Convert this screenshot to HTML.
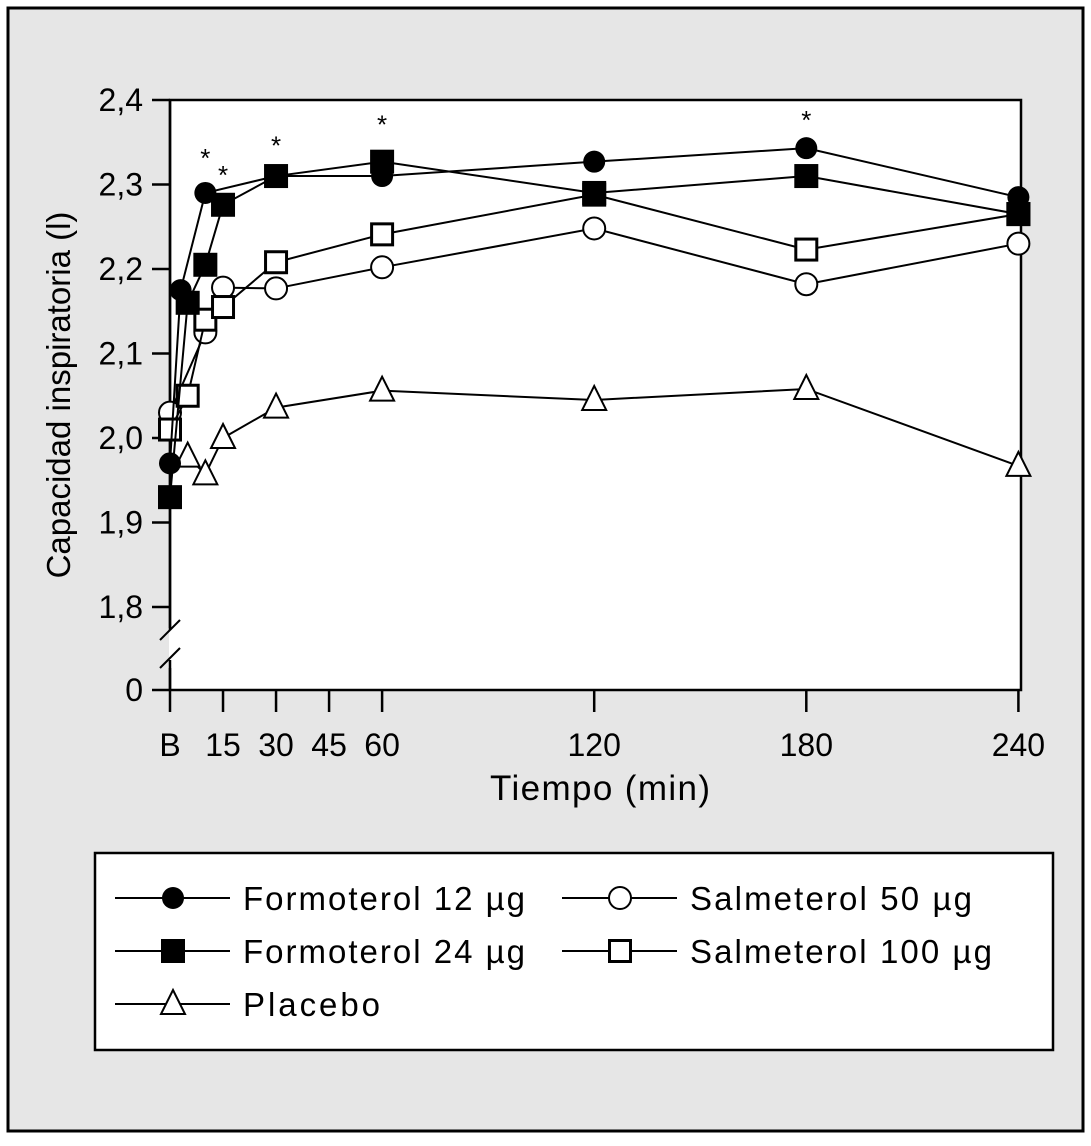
<!DOCTYPE html>
<html><head><meta charset="utf-8"><style>
body{margin:0;background:#fff;}
svg text{font-family:"Liberation Sans",sans-serif;fill:#000;}
</style></head><body>
<svg id="chart" width="1091" height="1141" xmlns="http://www.w3.org/2000/svg">
<rect x="8" y="8" width="1075" height="1123" fill="#e6e6e6" stroke="#000" stroke-width="3"/>
<rect x="170" y="100" width="851" height="590" fill="#fff" stroke="#000" stroke-width="2.5"/>
<g id="axes"></g>
<g id="series"></g>
<text x="600" y="800" font-size="35" text-anchor="middle" textLength="220">Tiempo (min)</text>
<text transform="translate(70,395) rotate(-90)" font-size="33" text-anchor="middle">Capacidad inspiratoria (l)</text>
<rect x="95" y="853" width="958" height="197" fill="#fff" stroke="#000" stroke-width="2.5"/>
<g id="legend"></g>
</svg>
<script>
const yTicks=[2.4,2.3,2.2,2.1,2.0,1.9,1.8];
const yTickLabels=["2,4","2,3","2,2","2,1","2,0","1,9","1,8"];
const xTicks=[0,15,30,45,60,120,180,240];
const xTickLabels=["B","15","30","45","60","120","180","240"];
const f12T=[0,3,10,30,60,120,180,240];
const f12V=[1.97,2.175,2.29,2.31,2.31,2.327,2.343,2.285];
const f24T=[0,5,10,15,30,60,120,180,240];
const f24V=[1.93,2.16,2.205,2.276,2.31,2.327,2.29,2.31,2.265];
const s50T=[0,10,15,30,60,120,180,240];
const s50V=[2.03,2.125,2.178,2.177,2.202,2.248,2.182,2.23];
const s100T=[0,5,10,15,30,60,120,180,240];
const s100V=[2.01,2.05,2.14,2.155,2.208,2.241,2.288,2.223,2.265];
const plT=[5,10,15,30,60,120,180,240];
const plV=[1.978,1.957,2.0,2.036,2.056,2.045,2.058,1.967];
const starT=[10,15,30,60,180];
const starV=[2.33,2.31,2.345,2.37,2.375];
const NS="http://www.w3.org/2000/svg";
const xs=t=>170+t*3.535;
const ys=v=>100+(2.4-v)*845;
function el(tag,attrs,parent){const e=document.createElementNS(NS,tag);for(const k in attrs)e.setAttribute(k,attrs[k]);parent.appendChild(e);return e;}
const ax=document.getElementById('axes');
yTicks.forEach((v,i)=>{const y=ys(v);
 const l=el('line',{x1:152,x2:170,y1:y,y2:y,stroke:'#000','stroke-width':2.5},ax);
 
 
 const t=el('text',{x:143,y:y+11,'font-size':32,'text-anchor':'end'},ax);t.textContent=yTickLabels[i];
 
 });
{const l=el('line',{x1:152,x2:170,y1:690,y2:690,stroke:'#000','stroke-width':2.5},ax);
 
 
 const t=el('text',{x:143,y:701,'font-size':32,'text-anchor':'end'},ax);t.textContent="0";
 
 
 el('rect',{x:158,y:628,width:11,height:40,fill:'#e6e6e6'},ax);
 el('rect',{x:169,y:628,width:4,height:40,fill:'#fff'},ax);
 el('line',{x1:160,y1:640,x2:180,y2:620,stroke:'#000','stroke-width':2},ax);
 el('line',{x1:160,y1:668,x2:180,y2:648,stroke:'#000','stroke-width':2},ax);
 el('line',{x1:170,y1:100,x2:170,y2:630,stroke:'#000','stroke-width':2.5},ax);
 el('line',{x1:170,y1:660,x2:170,y2:690,stroke:'#000','stroke-width':2.5},ax);}
xTicks.forEach((t,i)=>{const x=xs(t);
 const l=el('line',{x1:x,x2:x,y1:690,y2:712,stroke:'#000','stroke-width':2.5},ax);
 
 
 const tx=el('text',{x:x,y:756,'font-size':32,'text-anchor':'middle'},ax);tx.textContent=xTickLabels[i];
 
 });
function marker(g,type,x,y){
 if(type==='fc')return el('circle',{cx:x,cy:y,r:11,fill:'#000'},g);
 if(type==='oc')return el('circle',{cx:x,cy:y,r:11,fill:'#fff',stroke:'#000','stroke-width':2},g);
 if(type==='fs')return el('rect',{x:x-12,y:y-12,width:24,height:24,fill:'#000'},g);
 if(type==='os')return el('rect',{x:x-10.5,y:y-10.5,width:21,height:21,fill:'#fff',stroke:'#000','stroke-width':3},g);
 if(type==='tr')return el('polygon',{points:`${x},${y-14} ${x+12},${y+10} ${x-12},${y+10}`,fill:'#fff',stroke:'#000','stroke-width':2},g);
}
const sg=document.getElementById('series');
const series=[['placebo',plT,plV,'tr'],['salmeterol-50',s50T,s50V,'oc'],['salmeterol-100',s100T,s100V,'os'],['formoterol-12',f12T,f12V,'fc'],['formoterol-24',f24T,f24V,'fs']];
series.forEach(([n,T,V,m])=>{
 const g=el('g',{},sg);
 
 
 const p=el('polyline',{points:T.map((t,i)=>xs(t)+','+ys(V[i])).join(' '),fill:'none',stroke:'#000','stroke-width':2},g);
 
 
 T.forEach((t,i)=>{const mk=marker(g,m,xs(t),ys(V[i]));
  
  });
});
starT.forEach((t,i)=>{const s=el('text',{x:xs(t),y:ys(starV[i])+8,'font-size':26,'text-anchor':'middle'},sg);s.textContent='*';
 
 });
const lg=document.getElementById('legend');
const legItems=[['fc','Formoterol 12 µg',115,898,282],['fs','Formoterol 24 µg',115,951,282],['tr','Placebo',115,1004,137],['oc','Salmeterol 50 µg',562,898,282],['os','Salmeterol 100 µg',562,951,302]];
legItems.forEach(([m,label,x,y,w])=>{
 const g=el('g',{},lg);
 
 
 el('line',{x1:x,x2:x+115,y1:y,y2:y,stroke:'#000','stroke-width':2},g);
 marker(g,m,x+58,y);
 const t=el('text',{x:x+128,y:y+12,'font-size':33,textLength:w},g);t.textContent=label;
});
</script>
</body></html>
